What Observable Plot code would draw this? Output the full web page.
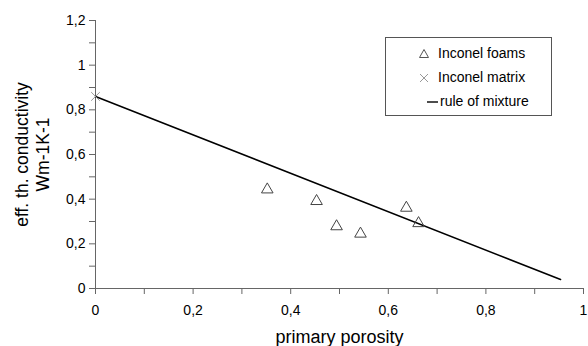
<!DOCTYPE html>
<html><head><meta charset="utf-8">
<script src="https://cdn.jsdelivr.net/npm/d3@7"></script>
<script src="https://cdn.jsdelivr.net/npm/@observablehq/plot@0.6"></script>
<style>
body{margin:0;background:#fff;font-family:"Liberation Sans",Arial,sans-serif;}
#wrap{position:relative;width:588px;height:346px;}
#legend{position:absolute;left:385px;top:37px;width:167px;height:79px;border:1px solid #555;box-sizing:border-box;background:#fff;font-size:14px;color:#000;}
#legend .sym{position:absolute;}
#legend .lab{position:absolute;left:52px;line-height:16px;white-space:nowrap;}
</style>
</head><body>
<div id="wrap"><div id="chart"></div>
<div id="legend">
 <svg class="sym" style="left:31px;top:9px" width="14" height="14"><path d="M7,2.5 L11.5,10.5 L2.5,10.5 Z" fill="none" stroke="#555"/></svg>
 <span class="lab" style="top:7px">Inconel foams</span>
 <svg class="sym" style="left:31px;top:33px" width="14" height="14"><path d="M3,3 L11,11 M11,3 L3,11" stroke="#999"/></svg>
 <span class="lab" style="top:31px">Inconel matrix</span>
 <svg class="sym" style="left:41px;top:57px" width="12" height="14"><path d="M0,7 L11,7" stroke="#000" stroke-width="1.4"/></svg>
 <span class="lab" style="top:55px;left:54px">rule of mixture</span>
</div>
</div>
<script>
const foamPorosity = [0.352, 0.453, 0.494, 0.543, 0.637, 0.662];
const foamConductivity = [0.443, 0.391, 0.278, 0.245, 0.361, 0.292];
const matrixPorosity = [0];
const matrixConductivity = [0.86];
const mixturePorosity = [0, 0.953];
const mixtureConductivity = [0.86, 0.04];
const xTicks = [0,0.1,0.2,0.3,0.4,0.5,0.6,0.7,0.8,0.9,1];
const yTicks = [0,0.1,0.2,0.3,0.4,0.5,0.6,0.7,0.8,0.9,1,1.1,1.2];

const foams = foamPorosity.map((p,i)=>({p, k: foamConductivity[i]}));
const matrix = matrixPorosity.map((p,i)=>({p, k: matrixConductivity[i]}));
const mixture = mixturePorosity.map((p,i)=>({p, k: mixtureConductivity[i]}));
const fmt = v => {
  const r = Math.round(v*10);
  if (r % 2 !== 0) return "";
  return (r===0?"0": r===10?"1": v.toFixed(1).replace(".",","));
};

const plot = Plot.plot({
  width: 588, height: 346,
  marginLeft: 95, marginRight: 5, marginTop: 20, marginBottom: 58,
  style: {fontFamily: '"Liberation Sans", Arial, sans-serif', fontSize: "14px", color: "#000", background: "#fff"},
  x: {domain: [0, 1]},
  y: {domain: [0, 1.2]},
  marks: [
    Plot.axisX({ticks: xTicks, tickFormat: fmt, tickSize: 6, tickPadding: 11, stroke: "#666", fill: "#000", fontSize: 14, label: null}),
    Plot.axisY({ticks: yTicks, tickFormat: fmt, tickSize: 6, tickPadding: 4, stroke: "#666", fill: "#000", fontSize: 14, label: null}),
    Plot.ruleY([0], {stroke: "#666"}),
    Plot.ruleX([0], {stroke: "#666"}),
    Plot.line(mixture, {x: "p", y: "k", stroke: "#000", strokeWidth: 1.5}),
    Plot.dot(matrix, {x: "p", y: "k", symbol: "times", r: 4, stroke: "#999", strokeWidth: 1}),
    Plot.dot(foams, {x: "p", y: "k", symbol: "triangle", r: 4.3, stroke: "#444", strokeWidth: 1, fill: "none"}),
    Plot.text(["primary porosity"], {x: () => 0.5, y: () => 0, dy: 49, lineAnchor: "middle", fontSize: 18}),
    Plot.text(["eff. th. conductivity\nWm-1K-1"], {x: () => 0, y: () => 0.6, rotate: -90, dx: -64, lineAnchor: "middle", lineHeight: 1.22, fontSize: 17.5})
  ]
});
document.getElementById("chart").append(plot);
</script>
</body></html>
